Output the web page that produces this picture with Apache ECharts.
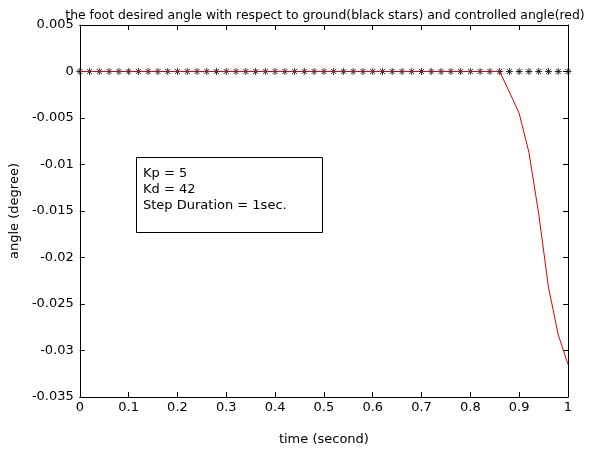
<!DOCTYPE html>
<html>
<head>
<meta charset="utf-8">
<script src="https://cdn.jsdelivr.net/npm/echarts@6/dist/echarts.min.js"></script>
<style>
	html, body { margin: 0; padding: 0; background: #fff; }
	#main { width: 597px; height: 457px; }
</style>
</head>
<body>
<div id="main"></div>
<script>
// desired angle samples (black stars), every 0.02 s, all zero
var starTimes = [0, 0.02, 0.04, 0.06, 0.08, 0.1, 0.12, 0.14, 0.16, 0.18,
	0.2, 0.22, 0.24, 0.26, 0.28, 0.3, 0.32, 0.34, 0.36, 0.38,
	0.4, 0.42, 0.44, 0.46, 0.48, 0.5, 0.52, 0.54, 0.56, 0.58,
	0.6, 0.62, 0.64, 0.66, 0.68, 0.7, 0.72, 0.74, 0.76, 0.78,
	0.8, 0.82, 0.84, 0.86, 0.88, 0.9, 0.92, 0.94, 0.96, 0.98, 1.0];
var starValues = starTimes.map(function(){ return 0; });

// controlled angle (red)
var redTimes  = [0, 0.86, 0.88, 0.90, 0.92, 0.94, 0.96, 0.98, 1.0];
var redValues = [0, 0, -0.0022, -0.0045, -0.0087, -0.0153, -0.0232, -0.0283, -0.0315];

var boxLines = ['Kp = 5', 'Kd = 42', 'Step Duration = 1sec.'];

var font = 'DejaVu Sans, sans-serif';
var chart = echarts.init(document.getElementById('main'));

function zip(a, b){
	return a.map(function(v, k){ return [v, b[k]]; });
}

var axisCommon = {
	type: 'value',
	axisLine: { show: true, onZero: false, lineStyle: { color: '#000', width: 1 } },
	axisTick: { show: true, inside: true, length: 5, lineStyle: { color: '#000' } },
	splitLine: { show: false },
	axisLabel: { color: '#000', fontFamily: font, fontSize: 13 }
};

chart.setOption({
	backgroundColor: '#fff',
	animation: false,
	title: {
		text: 'the foot desired angle with respect to ground(black stars) and controlled angle(red)',
		left: 320, top: 5, textAlign: 'center',
		textStyle: { fontFamily: font, fontSize: 12.4, fontWeight: 'normal', color: '#000' }
	},
	grid: { left: 78, right: 29, top: 25, bottom: 60 },
	xAxis: [
		Object.assign({}, axisCommon, {
			min: 0, max: 1, interval: 0.1, position: 'bottom',
			name: 'time (second)', nameLocation: 'middle', nameGap: 36,
			nameTextStyle: { fontFamily: font, fontSize: 13, color: '#000' },
			axisLabel: { color: '#000', fontFamily: font, fontSize: 13, margin: 4,
				formatter: function(v){ return +v.toFixed(1) + ''; } }
		}),
		Object.assign({}, axisCommon, {
			min: 0, max: 1, interval: 0.1, position: 'top',
			axisLabel: { show: false }
		})
	],
	yAxis: [
		Object.assign({}, axisCommon, {
			min: -0.035, max: 0.005, interval: 0.005, position: 'left',
			name: 'angle (degree)', nameLocation: 'middle', nameGap: 56,
			nameTextStyle: { fontFamily: font, fontSize: 13, color: '#000' },
			axisLabel: { color: '#000', fontFamily: font, fontSize: 13, margin: 6,
				formatter: function(v){ return +v.toFixed(3) + ''; } }
		}),
		Object.assign({}, axisCommon, {
			min: -0.035, max: 0.005, interval: 0.005, position: 'right',
			axisLabel: { show: false }
		})
	],
	series: [
		{
			name: 'desired',
			type: 'scatter',
			data: zip(starTimes, starValues),
			symbol: 'path://M0,-5L0,5M-5,0L5,0M-3.6,-3.6L3.6,3.6M-3.6,3.6L3.6,-3.6',
			symbolSize: 7,
			itemStyle: { color: 'none', borderColor: '#000', borderWidth: 1 },
			z: 2
		},
		{
			name: 'controlled',
			type: 'line',
			data: zip(redTimes, redValues),
			showSymbol: false,
			lineStyle: { color: '#e00000', width: 1 },
			z: 3
		}
	],
	graphic: [
		{
			type: 'rect',
			shape: { x: 136.5, y: 157.5, width: 186, height: 75 },
			style: { fill: '#fff', stroke: '#000', lineWidth: 1 },
			z: 10
		},
		{
			type: 'text',
			x: 143, y: 166,
			style: { text: boxLines.join('\n'), fontFamily: font, fontSize: 13, lineHeight: 16, fill: '#000' },
			z: 11
		}
	]
});
</script>
</body>
</html>
